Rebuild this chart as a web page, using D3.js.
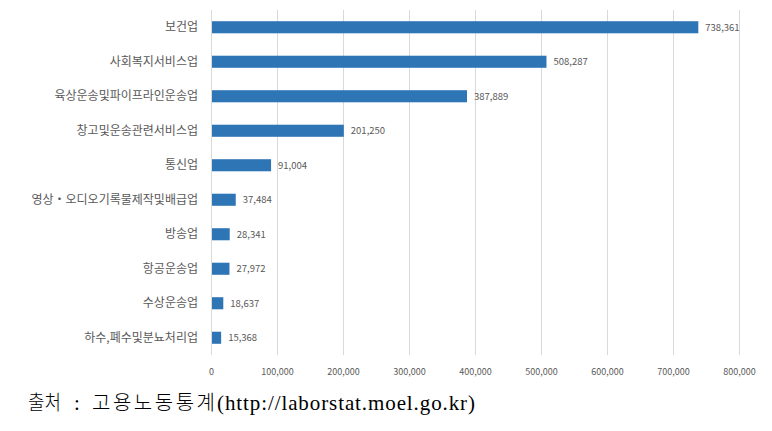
<!DOCTYPE html>
<html><head><meta charset="utf-8">
<script src="https://cdn.jsdelivr.net/npm/d3@7"></script>
<style>body{margin:0;background:#fff;}svg{display:block;}</style>
</head><body>
<svg id="c" width="772" height="431"></svg>
<script>
const categories = ["보건업","사회복지서비스업","육상운송및파이프라인운송업","창고및운송관련서비스업","통신업","영상・오디오기록물제작및배급업","방송업","항공운송업","수상운송업","하수,폐수및분뇨처리업"];
const values = [738361,508287,387889,201250,91004,37484,28341,27972,18637,15368];
const ticks = [0,100000,200000,300000,400000,500000,600000,700000,800000];
const sourceParts = ["출처", ":", "고용노동통계", "(http://laborstat.moel.go.kr)"];

const svg = d3.select("#c");
const x = d3.scaleLinear().domain([0,800000]).range([211,739]);
const y = d3.scaleBand().domain(categories).range([10,355]).paddingInner(0.65).paddingOuter(0.325);
const fmt = d3.format(",");
const sans = "'Noto Sans CJK KR','Noto Sans',sans-serif";

// gridlines
svg.append("g").selectAll("line").data(ticks).join("line")
  .attr("x1", d=>x(d)+0.5).attr("x2", d=>x(d)+0.5)
  .attr("y1",10).attr("y2",355)
  .attr("stroke","#d9d9d9").attr("stroke-width",1);

// x axis tick labels
const xAxis = d3.axisBottom(x).tickValues(ticks).tickSize(0).tickFormat(fmt);
const gx = svg.append("g").attr("transform","translate(0,366)").call(xAxis);
gx.select(".domain").remove();
gx.selectAll("text").attr("font-family",sans).attr("font-size","9px").attr("fill","#595959");

// bars
svg.append("g").selectAll("rect").data(values).join("rect")
  .attr("x", x(0)+1).attr("y",(d,i)=>y(categories[i]))
  .attr("width", d=>x(d)-x(0)-1).attr("height", y.bandwidth())
  .attr("fill","#2e75b6");

// value labels
svg.append("g").selectAll("text").data(values).join("text")
  .attr("x", d=>x(d)+7).attr("y",(d,i)=>y(categories[i])+y.bandwidth()/2)
  .attr("dy","0.35em").attr("font-family",sans).attr("font-size","9.5px").attr("fill","#595959")
  .text(d=>fmt(d));

// category labels
const yAxis = d3.axisLeft(y).tickSize(0).tickPadding(0);
const gy = svg.append("g").attr("transform","translate(198,0)").call(yAxis);
gy.select(".domain").remove();
gy.selectAll("text").attr("font-family",sans).attr("font-size","12px").attr("fill","#595959");

// source
const src = svg.append("text").attr("y",410).attr("fill","#000")
  .attr("font-family","'Liberation Serif','Noto Sans CJK KR',serif").attr("font-size","21px");
src.append("tspan").attr("x",28).attr("font-family",sans).attr("font-weight",300).attr("font-size","20px")
  .attr("textLength",33).attr("lengthAdjust","spacingAndGlyphs").text(sourceParts[0]);
src.append("tspan").attr("x",74).text(sourceParts[1]);
src.append("tspan").attr("x",92).attr("font-family",sans).attr("font-weight",300).attr("font-size","20px")
  .attr("textLength",123).attr("lengthAdjust","spacing").text(sourceParts[2]);
src.append("tspan").attr("x",217).attr("textLength",258).attr("lengthAdjust","spacing").text(sourceParts[3]);
</script>
</body></html>
